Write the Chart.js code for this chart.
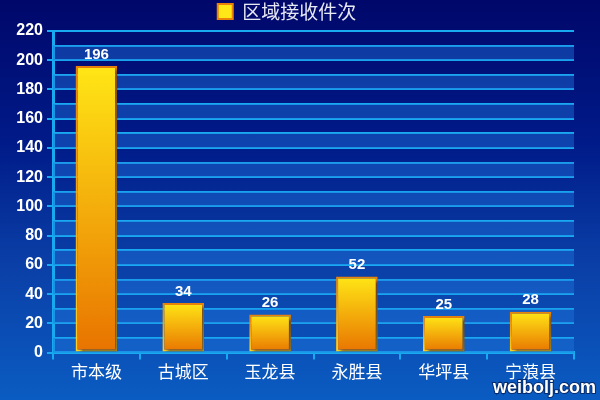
<!DOCTYPE html>
<html>
<head>
<meta charset="utf-8">
<script src="https://cdn.jsdelivr.net/npm/chart.js@4"></script>
<style>
  html, body { margin: 0; padding: 0; }
  body {
    width: 600px; height: 400px; overflow: hidden;
    background: linear-gradient(to bottom, #00076a 0%, #001a88 35%, #0a3ea6 65%, #0a5cc2 100%);
  }
  #wrap { width: 600px; height: 400px; }
</style>
</head>
<body>
<div id="wrap"><canvas id="chart0"></canvas></div>
<script>
// data
const categories = ["市本级", "古城区", "玉龙县", "永胜县", "华坪县", "宁蒗县"];
const counts = [196, 34, 26, 52, 25, 28];
const seriesName = "区域接收件次";
const yMax = 220;

const cyan = '#18aaf0';

// gradient per bar, yellow at top and orange at bottom
function barGradient(ctx, reverse) {
  const chart = ctx.chart;
  if (!chart.chartArea || ctx.raw === undefined) return reverse ? '#f4c000' : '#f6a300';
  const y = chart.scales.y;
  const top = y.getPixelForValue(ctx.raw);
  const bot = y.getPixelForValue(0);
  const g = chart.ctx.createLinearGradient(0, top, 0, bot);
  if (reverse) {
    g.addColorStop(0, '#e8800a');
    g.addColorStop(1, '#ffd21a');
  } else {
    g.addColorStop(0, '#ffe616');
    g.addColorStop(1, '#e87300');
  }
  return g;
}

// alternating bands behind the grid
const bandsPlugin = {
  id: 'bands',
  beforeDatasetsDraw(chart) {
    const { ctx, chartArea } = chart;
    const y = chart.scales.y;
    ctx.save();
    ctx.fillStyle = 'rgba(30,115,220,0.45)';
    for (let v = 0; v < yMax; v += 20) {
      const a = y.getPixelForValue(v);
      const b = y.getPixelForValue(v + 10);
      ctx.fillRect(chartArea.left, b, chartArea.right - chartArea.left, a - b);
    }
    ctx.restore();
    // shadow for bars
    ctx.save();
    ctx.shadowColor = 'rgba(0,0,40,0.55)';
    ctx.shadowOffsetX = 3;
    ctx.shadowOffsetY = 2;
    ctx.shadowBlur = 3;
  },
  afterDatasetsDraw(chart) {
    chart.ctx.restore();
    // value labels
    const ctx = chart.ctx;
    const meta = chart.getDatasetMeta(0);
    ctx.save();
    ctx.font = 'bold 15px "Liberation Sans", Arial, sans-serif';
    ctx.fillStyle = '#ffffff';
    ctx.textAlign = 'center';
    ctx.textBaseline = 'bottom';
    meta.data.forEach((bar, i) => {
      ctx.fillText(String(counts[i]), bar.x, bar.y - 4);
    });
    ctx.restore();
  },
  afterDraw(chart) {
    const ctx = chart.ctx;
    ctx.save();
    ctx.font = 'bold 18px "Liberation Sans", Arial, sans-serif';
    ctx.textAlign = 'right';
    ctx.textBaseline = 'alphabetic';
    ctx.lineWidth = 2;
    ctx.strokeStyle = 'rgba(0,30,90,0.8)';
    ctx.strokeText('weibolj.com', 596, 393);
    ctx.fillStyle = '#ffffff';
    ctx.fillText('weibolj.com', 596, 393);
    ctx.restore();
  }
};

new Chart(document.getElementById('chart0'), {
  type: 'bar',
  data: {
    labels: categories,
    datasets: [{
      label: seriesName,
      data: counts,
      backgroundColor: ctx => barGradient(ctx, false),
      borderColor: ctx => barGradient(ctx, true),
      borderWidth: 2,
      borderSkipped: false,
      categoryPercentage: 0.96,
      barPercentage: 0.5
    }]
  },
  options: {
    responsive: true,
    maintainAspectRatio: false,
    animation: false,
    layout: { padding: { top: 2, right: 26, bottom: 16, left: 0 } },
    plugins: {
      legend: {
        display: true,
        labels: {
          color: '#e6e8f2',
          font: { size: 19, family: '"Noto Sans CJK SC", sans-serif' },
          boxWidth: 15,
          boxHeight: 15,
          padding: 0
        }
      },
      tooltip: { enabled: false }
    },
    scales: {
      x: {
        grid: {
          display: true,
          drawOnChartArea: false,
          offset: true,
          color: cyan,
          lineWidth: 2,
          tickLength: 7
        },
        border: { display: true, color: cyan, width: 3 },
        ticks: {
          color: '#ffffff',
          font: { size: 17, family: '"Noto Sans CJK SC", sans-serif' },
          padding: 2
        }
      },
      y: {
        min: 0,
        max: yMax,
        afterFit(scale) { scale.width = 53; },
        grid: {
          color: cyan,
          lineWidth: 2,
          tickLength: 6,
          tickColor: ctx => (ctx.tick && ctx.tick.value % 20 === 0) ? cyan : 'rgba(0,0,0,0)'
        },
        border: { display: true, color: cyan, width: 3 },
        ticks: {
          stepSize: 10,
          autoSkip: false,
          padding: 4,
          color: '#ffffff',
          font: { size: 16, weight: 'bold', family: '"Liberation Sans", Arial, sans-serif' },
          callback: v => v % 20 === 0 ? v : ''
        }
      }
    }
  },
  plugins: [bandsPlugin]
});
</script>
</body>
</html>
